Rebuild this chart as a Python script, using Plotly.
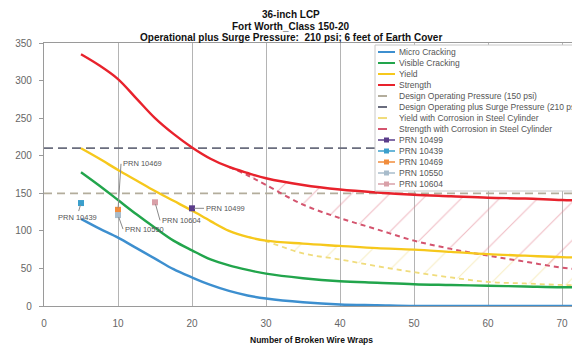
import plotly.graph_objects as go

# ---------------- data ----------------
wraps = [5, 7.5, 10, 12.5, 15, 17.5, 20, 22.5, 25, 27.5, 30, 35, 40, 45, 50, 55, 60, 65, 70, 75]
micro_cracking = [116, 103, 91, 77, 63, 49, 38, 28, 20, 14, 10, 5, 2, 1, 0, 0, 0, 0, 0, 0]
visible_cracking = [178, 160, 141, 122, 104, 87, 74, 62, 54, 48, 43, 37, 33, 31, 29, 28, 27, 26, 25, 25]
yield_pressure = [210, 196, 181, 167, 153, 140, 127, 113, 100, 92, 87, 83, 80, 77, 75, 72, 69, 67, 65, 64]
strength = [335, 320, 302, 276, 250, 229, 211, 196, 185, 177, 170, 161, 155, 151, 148, 146, 144, 143, 141, 140]

strength_corr_wraps = [25, 27.5, 30, 35, 40, 45, 50, 55, 60, 65, 70, 75]
strength_corrosion = [185, 174, 161, 135, 117, 102, 87, 76, 67, 59, 51, 46]
yield_corr_wraps = [27.5, 30, 35, 40, 45, 50, 55, 60, 65, 70, 75]
yield_corrosion = [92, 86, 70, 62, 53, 45, 38, 32, 30, 28, 27]

design_pressure = 150
surge_pressure = 210
line_span = [0, 75]

prn_names = ["PRN 10499", "PRN 10439", "PRN 10469", "PRN 10550", "PRN 10604"]
prn_wraps = [20, 5, 10, 10, 15]
prn_pressure = [130, 137, 128, 121, 138]

x_ticks = [0, 10, 20, 30, 40, 50, 60, 70]
y_ticks = [0, 50, 100, 150, 200, 250, 300, 350]

title_lines = ["36-inch LCP", "Fort Worth_Class 150-20",
               "Operational plus Surge Pressure:&nbsp; 210 psi; 6 feet of Earth Cover"]
x_title = "Number of Broken Wire Wraps"

# ---------------- styles ----------------
FONT = "Liberation Sans, Arial, sans-serif"
C_MICRO = "#3d8fcf"
C_VIS = "#22a54c"
C_YIELD = "#f6c81c"
C_STR = "#e8222c"
C_DES = "#b3ad9c"
C_SURGE = "#6a6d7e"
C_YCORR = "#f0dc7c"
C_SCORR = "#d4546e"
PRN_COLORS = ["#5a3c8a", "#3a9fcc", "#f08c3c", "#a8bccb", "#d9a0a8"]
# label offsets (pixels): ax, ay, xanchor
PRN_LABEL = [(12, 0, "left"), (-4, 14, "center"), (3, -46, "left"), (5, 14, "left"), (5, 18, "left")]

fig = go.Figure()

def lookup(xs, ys, sel):
    m = dict(zip(xs, ys))
    return [m[v] for v in sel]

# hatched regions (drawn first, under the lines)
fig.add_trace(go.Scatter(x=yield_corr_wraps, y=yield_corrosion, mode="lines",
                         line=dict(width=0, shape="spline"), hoverinfo="skip", showlegend=False))
fig.add_trace(go.Scatter(x=yield_corr_wraps, y=lookup(wraps, yield_pressure, yield_corr_wraps),
                         mode="lines", line=dict(width=0, shape="spline"), fill="tonexty",
                         fillcolor="rgba(0,0,0,0)",
                         fillpattern=dict(shape="/", fgcolor="#f0dc88", bgcolor="rgba(0,0,0,0)",
                                          size=27, solidity=0.04),
                         hoverinfo="skip", showlegend=False))
fig.add_trace(go.Scatter(x=strength_corr_wraps, y=strength_corrosion, mode="lines",
                         line=dict(width=0, shape="spline"), hoverinfo="skip", showlegend=False))
fig.add_trace(go.Scatter(x=strength_corr_wraps, y=lookup(wraps, strength, strength_corr_wraps),
                         mode="lines", line=dict(width=0, shape="spline"), fill="tonexty",
                         fillcolor="rgba(0,0,0,0)",
                         fillpattern=dict(shape="/", fgcolor="#e07c8a", bgcolor="rgba(0,0,0,0)",
                                          size=27, solidity=0.042),
                         hoverinfo="skip", showlegend=False))

# reference pressure lines
fig.add_trace(go.Scatter(x=line_span, y=[design_pressure] * 2, mode="lines",
                         line=dict(color=C_DES, width=1.8, dash="8px,5px"), showlegend=False))
fig.add_trace(go.Scatter(x=line_span, y=[surge_pressure] * 2, mode="lines",
                         line=dict(color=C_SURGE, width=1.8, dash="9px,5px"), showlegend=False))

# corrosion curves
fig.add_trace(go.Scatter(x=yield_corr_wraps, y=yield_corrosion, mode="lines",
                         line=dict(color=C_YCORR, width=1.8, dash="5px,4px", shape="spline"),
                         showlegend=False))
fig.add_trace(go.Scatter(x=strength_corr_wraps, y=strength_corrosion, mode="lines",
                         line=dict(color=C_SCORR, width=2, dash="5px,4px", shape="spline"),
                         showlegend=False))

# main curves
for ys, col in [(micro_cracking, C_MICRO), (visible_cracking, C_VIS),
                (yield_pressure, C_YIELD), (strength, C_STR)]:
    fig.add_trace(go.Scatter(x=wraps, y=ys, mode="lines",
                             line=dict(color=col, width=2.4, shape="spline"), showlegend=False))

# PRN points
for i, name in enumerate(prn_names):
    fig.add_trace(go.Scatter(x=[prn_wraps[i]], y=[prn_pressure[i]], mode="markers",
                             marker=dict(color=PRN_COLORS[i], size=6, symbol="square"),
                             showlegend=False))
    ax, ay, xa = PRN_LABEL[i]
    fig.add_annotation(x=prn_wraps[i], y=prn_pressure[i], text=name, showarrow=True,
                       arrowhead=0, arrowwidth=1, arrowcolor="#8a8a8a", ax=ax, ay=ay,
                       xanchor=xa, standoff=2,
                       font=dict(family=FONT, size=7.5, color="#555555"))

# ---------------- layout geometry ----------------
# the page body adds an 8px offset; the figure covers the window from (8, 8)
OFF = 8
WIN_W, WIN_H = 580, 346
W, H = WIN_W - OFF, WIN_H - OFF
PLOT_L, PLOT_T, PLOT_B, PLOT_R = 44, 43, 306, 580   # window pixels
L, T = PLOT_L - OFF, PLOT_T - OFF
B = WIN_H - PLOT_B
PW = PLOT_R - PLOT_L
PH = PLOT_B - PLOT_T

def px_x(p):
    return (p - PLOT_L) / PW

def px_y(p):
    return (PLOT_B - p) / PH

# manual legend
legend_items = [
    ("Micro Cracking", C_MICRO, "solid", False),
    ("Visible Cracking", C_VIS, "solid", False),
    ("Yield", C_YIELD, "solid", False),
    ("Strength", C_STR, "solid", False),
    ("Design Operating Pressure (150 psi)", C_DES, "dash", False),
    ("Design Operating plus Surge Pressure (210 psi)", C_SURGE, "dash", False),
    ("Yield with Corrosion in Steel Cylinder", C_YCORR, "dash", False),
    ("Strength with Corrosion in Steel Cylinder", C_SCORR, "dash", False),
] + [(n, c, "solid", True) for n, c in zip(prn_names, PRN_COLORS)]

shapes = [dict(type="rect", xref="paper", yref="paper", x0=px_x(375), x1=px_x(600),
               y0=px_y(191), y1=px_y(45), fillcolor="white",
               line=dict(color="#c8c8c8", width=1), layer="above")]
for i, (name, col, dash, mk) in enumerate(legend_items):
    yp = px_y(52 + 11 * i)
    shapes.append(dict(type="line", xref="paper", yref="paper", x0=px_x(378), x1=px_x(395),
                       y0=yp, y1=yp, line=dict(color=col, width=2 if not mk else 1.5, dash=dash),
                       layer="above"))
    if mk:
        shapes.append(dict(type="rect", xref="paper", yref="paper", xsizemode="pixel",
                           ysizemode="pixel", xanchor=px_x(386.5), yanchor=yp,
                           x0=-2.5, x1=2.5, y0=-2.5, y1=2.5, fillcolor=col,
                           line=dict(width=0), layer="above"))
    fig.add_annotation(xref="paper", yref="paper", x=px_x(397), y=yp, text=name,
                       showarrow=False, xanchor="left", yanchor="middle",
                       font=dict(family=FONT, size=8.5, color="#555555"))

# chart title (three centred bold lines)
for j, line in enumerate(title_lines):
    fig.add_annotation(xref="paper", yref="paper", x=px_x(291), y=px_y(14.5 + 11.5 * j),
                       text="<b>" + line + "</b>", showarrow=False,
                       xanchor="center", yanchor="middle",
                       font=dict(family=FONT, size=10, color="#111111"))

# x-axis title
fig.add_annotation(xref="paper", yref="paper", x=px_x(311), y=px_y(340),
                   text="<b>" + x_title + "</b>", showarrow=False,
                   xanchor="center", yanchor="middle",
                   font=dict(family=FONT, size=8.5, color="#111111"))

fig.update_layout(
    width=W, height=H,
    margin=dict(l=L, r=0, t=T, b=B, autoexpand=False),
    paper_bgcolor="white", plot_bgcolor="white",
    font=dict(family=FONT, color="#555555"),
    showlegend=False,
    shapes=shapes,
)

fig.update_xaxes(range=[0, PW / 7.4], tickvals=x_ticks, showgrid=True, gridcolor="#b4b4b4",
                 gridwidth=1, showline=True, linecolor="#9a9a9a", linewidth=1.2, mirror=True,
                 ticks="", ticklabelstandoff=8, zeroline=False,
                 tickfont=dict(family=FONT, size=10, color="#666666"))
fig.update_yaxes(range=[0, 350], tickvals=y_ticks, showgrid=False, showline=True,
                 linecolor="#9a9a9a", linewidth=1.2, ticks="outside", ticklen=4,
                 tickcolor="#9a9a9a", zeroline=False, ticklabelstandoff=5,
                 tickfont=dict(family=FONT, size=10, color="#666666"))

fig.write_html("out.html")
